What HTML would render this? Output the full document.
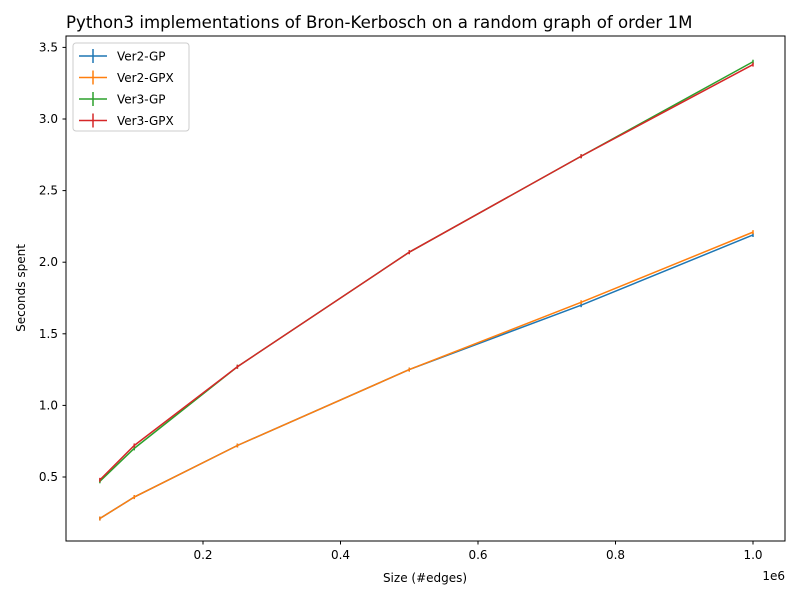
<!DOCTYPE html>
<html><head><meta charset="utf-8"><style>
body{margin:0;background:#fff;}
svg text{font-family:"DejaVu Sans","Liberation Sans",sans-serif;}
</style></head><body>
<svg id="chart" width="800" height="600" xmlns="http://www.w3.org/2000/svg">
<rect width="800" height="600" fill="#fff"/>
<text x="66" y="28" font-size="16.6">Python3 implementations of Bron-Kerbosch on a random graph of order 1M</text>
<g id="plot"></g>
<rect x="66" y="36" width="719" height="505" fill="none" stroke="#000" stroke-width="1"/>
<text x="425" y="582" font-size="12" text-anchor="middle">Size (#edges)</text>
<text x="25" y="288" font-size="12" text-anchor="middle" transform="rotate(-90 25 288)">Seconds spent</text>
<text x="785" y="580" font-size="12" text-anchor="end">1e6</text>
<g id="legend"></g>
</svg>
<script>
const sizes=[0.05,0.1,0.25,0.5,0.75,1.0];
const names=["Ver2-GP","Ver2-GPX","Ver3-GP","Ver3-GPX"];
const colors=["#1f77b4","#ff7f0e","#2ca02c","#d62728"];
const ver2gp=[0.21,0.36,0.72,1.25,1.70,2.19];
const ver2gpx=[0.21,0.36,0.72,1.25,1.72,2.21];
const ver3gp=[0.47,0.70,1.27,2.07,2.74,3.40];
const ver3gpx=[0.48,0.72,1.27,2.07,2.74,3.38];
const xTicks=[0.2,0.4,0.6,0.8,1.0];
const xTickLabels=["0.2","0.4","0.6","0.8","1.0"];
const yTicks=[0.5,1.0,1.5,2.0,2.5,3.0,3.5];
const yTickLabels=["0.5","1.0","1.5","2.0","2.5","3.0","3.5"];
const series=[ver2gp,ver2gpx,ver3gp,ver3gpx];
const NS="http://www.w3.org/2000/svg";
function xs(v){return 203+(v-0.2)*687.5;}
function ys(v){return 477-(v-0.5)*143.2;}
const plot=document.getElementById('plot');
function mk(tag,attrs,parent){const e=document.createElementNS(NS,tag);for(const k in attrs)e.setAttribute(k,attrs[k]);parent.appendChild(e);return e;}
xTicks.forEach((t,i)=>{
 const l=mk('line',{x1:xs(t),x2:xs(t),y1:541,y2:544.5,stroke:'#000'},plot);
 
 
 const tx=mk('text',{x:xs(t),y:559,'font-size':12,'text-anchor':'middle'},plot);
 tx.textContent=xTickLabels[i];
 
 
});
yTicks.forEach((t,i)=>{
 const l=mk('line',{x1:62.5,x2:66,y1:ys(t),y2:ys(t),stroke:'#000'},plot);
 
 
 const tx=mk('text',{x:58,y:ys(t)+4,'font-size':12,'text-anchor':'end'},plot);
 tx.textContent=yTickLabels[i];
 
 
});
series.forEach((s,si)=>{
 const pts=s.map((v,i)=>xs(sizes[i])+','+ys(v)).join(' ');
 const pl=mk('polyline',{points:pts,fill:'none',stroke:colors[si],'stroke-width':1.5},plot);
 
 
 s.forEach((v,i)=>{
  const e=mk('line',{x1:xs(sizes[i]),x2:xs(sizes[i]),y1:ys(v)-2,y2:ys(v)+2,stroke:colors[si],'stroke-width':1.5},plot);
  
  
 });
});
const lg=document.getElementById('legend');
const box=mk('rect',{x:73,y:43,width:116,height:88,rx:3,fill:'#fff','fill-opacity':0.8,stroke:'#ccc'},lg);


names.forEach((n,i)=>{
 const y=56+i*21.5;
 const l=mk('line',{x1:79,x2:107,y1:y,y2:y,stroke:colors[i],'stroke-width':1.5},lg);
 
 
 const v=mk('line',{x1:93,x2:93,y1:y-7,y2:y+7,stroke:colors[i],'stroke-width':1.5},lg);
 
 
 const t=mk('text',{x:117,y:y+4.5,'font-size':12},lg);
 t.textContent=n;
 
 
});
</script>
</body></html>
